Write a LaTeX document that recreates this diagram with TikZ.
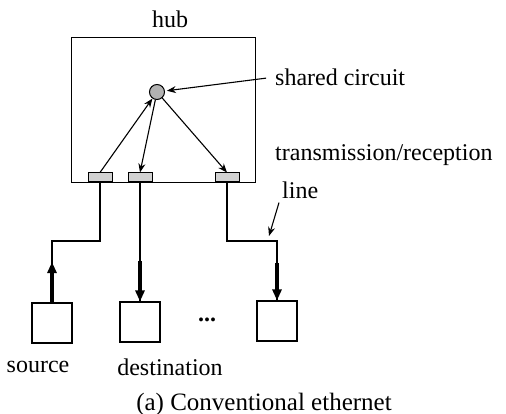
\documentclass[tikz,border=0pt]{standalone}
\usepackage{fontspec}
\setmainfont{Liberation Serif}
\usetikzlibrary{arrows.meta}
\begin{document}
\begin{tikzpicture}[x=1pt, y=-1pt,
  port/.style={draw, line width=1pt, fill=gray!35, minimum width=24pt, minimum height=9pt, inner sep=0pt},
  host/.style={draw, line width=1.1pt, minimum size=40pt, inner sep=0pt},
  lbl/.style={font=\fontsize{24}{28}\selectfont, inner sep=0pt},
  wire/.style={line width=1.1pt},
  sig/.style={-{Stealth[length=9pt, width=7pt]}, line width=1.1pt},
  data/.style={-{Triangle[length=11pt, width=9pt]}, line width=3.3pt}]
  \useasboundingbox (0,0) rectangle (506,414);
  % hub and shared circuit
  \node[draw, line width=1.1pt, minimum width=184pt, minimum height=145pt, anchor=north west] (hub) at (71,37) {};
  \node[lbl] (hubl) at (170,19) {hub};
  \node[circle, draw, line width=1pt, fill=gray!60, minimum size=15pt, inner sep=0pt] (sc) at (157,92) {};
  \node[port] (pl) at (100,177.5) {};
  \node[port] (pm) at (140,177.5) {};
  \node[port] (pr) at (227,177.5) {};
  \draw[sig] (pl.north) -- (sc);
  \draw[sig] (sc) -- (pm.north);
  \draw[sig] (sc) -- (pr.north);
  % stations
  \node[host] (src) at (52,323) {};
  \node[host] (dst) at (140,322) {};
  \node[host] (dn) at (277,321) {};
  \node[lbl, font=\fontsize{24}{28}\selectfont\bfseries] (dots) at (207,320) {...};
  \coordinate (lb) at (52,241);
  \coordinate (rb) at (277,241);
  \coordinate (srcup) at (52,262);
  \coordinate (dstup) at (140,261);
  \coordinate (dnup) at (277,263);
  \draw[wire] (pl.south) |- (lb) -- (src.north);
  \draw[wire] (pm.south) -- (dst.north);
  \draw[wire] (pr.south) |- (rb) -- (dn.north);
  \draw[data] (src.north) -- (srcup);
  \draw[data] (dstup) -- (dst.north);
  \draw[data] (dnup) -- (dn.north);
  % labels
  \node[lbl, anchor=west] (shl) at (275,77) {shared circuit};
  \draw[sig, shorten <=9pt, shorten >=2pt] (shl.west) -- (sc);
  \node[lbl, anchor=west] (trl) at (275,155) {transmission/reception};
  \node[lbl, anchor=west] (lnl) at (282,190) {line};
  \coordinate (lnpt) at (269,236);
  \draw[sig] ([xshift=-3pt, yshift=-4pt]lnl.south west) -- (lnpt);
  \node[lbl] (srcl) at (38,367) {source};
  \node[lbl] (dstl) at (170,367) {destination};
  \node[font=\fontsize{25}{29}\selectfont, inner sep=0pt] (cap) at (264,404) {(a) Conventional ethernet};
\end{tikzpicture}
\end{document}
